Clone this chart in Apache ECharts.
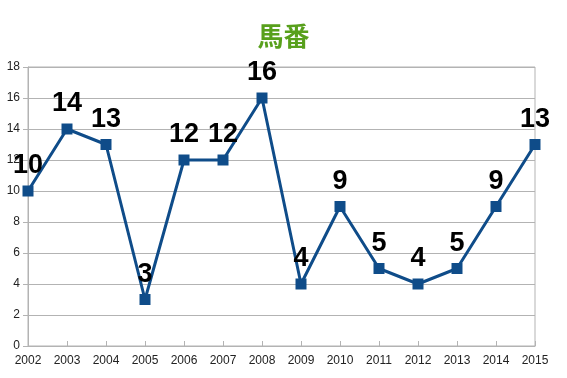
<!DOCTYPE html>
<html>
<head>
<meta charset="utf-8">
<script src="https://cdn.jsdelivr.net/npm/echarts@6/dist/echarts.min.js"></script>
<style>
html, body { margin: 0; padding: 0; background: #fff; }
#chart { width: 567px; height: 378px; }
</style>
</head>
<body>
<div id="chart"></div>
<script>
var years = ["2002", "2003", "2004", "2005", "2006", "2007", "2008", "2009", "2010", "2011", "2012", "2013", "2014", "2015"];
var umaban = [10, 14, 13, 3, 12, 12, 16, 4, 9, 5, 4, 5, 9, 13];

var myChart = echarts.init(document.getElementById("chart"));
var fontColor = "#222";

var option = {
  backgroundColor: "#fff",
  animation: false,
  title: {
    text: "馬番",
    left: "center",
    top: 18,
    textStyle: {
      color: "#58a01c",
      fontSize: 26,
      fontWeight: "bold",
      fontFamily: "Noto Sans CJK JP"
    }
  },
  grid: {
    left: 28,
    right: 32,
    top: 67,
    bottom: 32,
    show: true,
    borderColor: "#b3b3b3",
    borderWidth: 1
  },
  xAxis: {
    type: "category",
    boundaryGap: false,
    data: years,
    axisLine: { lineStyle: { color: "#b3b3b3" } },
    axisTick: { show: true, inside: true, length: 5, lineStyle: { color: "#b3b3b3" } },
    axisLabel: { color: fontColor, fontSize: 12, fontFamily: "Liberation Sans", margin: 9 },
    splitLine: { show: false }
  },
  yAxis: {
    type: "value",
    min: 0,
    max: 18,
    interval: 2,
    axisLine: { show: true, lineStyle: { color: "#b3b3b3" } },
    axisTick: { show: true, length: 5, lineStyle: { color: "#b3b3b3" } },
    axisLabel: { color: fontColor, fontSize: 12, fontFamily: "Liberation Sans", margin: 8 },
    splitLine: { lineStyle: { color: "#b3b3b3" } }
  },
  series: [{
    name: "馬番",
    type: "line",
    data: umaban,
    symbol: "rect",
    symbolSize: 11,
    lineStyle: { color: "#0f4c89", width: 3 },
    itemStyle: { color: "#0f4c89" },
    label: {
      show: true,
      position: "top",
      distance: 6,
      color: "#000",
      fontSize: 27,
      fontWeight: 900,
      fontFamily: "'Liberation Sans Narrow', 'Liberation Sans'"
    }
  }]
};

myChart.setOption(option);
</script>
</body>
</html>
